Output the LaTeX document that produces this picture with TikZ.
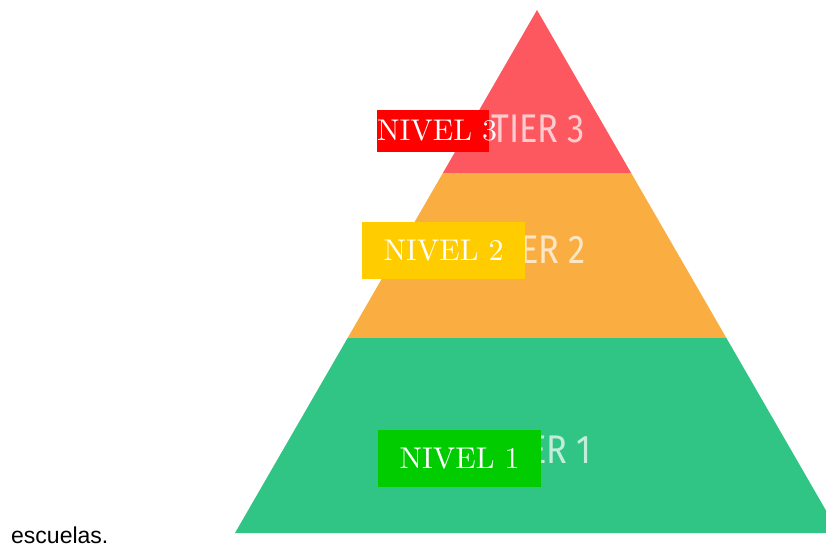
\documentclass[tikz,border=0pt]{standalone}
\usepackage{fontspec}
\newfontfamily\tierfont{Fira Sans}
\newfontfamily\notefont{Liberation Sans}
\newfontfamily\nivelfont{lmroman10-regular.otf}
\usetikzlibrary{positioning,calc}

\definecolor{tierred}{RGB}{253,87,95}
\definecolor{tierorange}{RGB}{250,174,65}
\definecolor{tiergreen}{RGB}{48,197,132}
\definecolor{nivelred}{RGB}{255,0,0}
\definecolor{nivelgold}{RGB}{255,204,0}
\definecolor{nivelgreen}{RGB}{0,204,0}

\begin{document}
\begin{tikzpicture}[x=1pt,y=-1pt]

		\tikzset{tierstyle/.style={text=white, text opacity=0.7, inner sep=0pt, font=\tierfont\fontsize{40}{40}\selectfont}}
		\tikzset{nivelbox/.style={inner sep=0pt, minimum width=163pt, minimum height=57pt}}
		\tikzset{niveltext/.style={text=white, inner sep=0pt, font=\nivelfont\fontsize{30}{30}\selectfont}}
		\tikzset{notestyle/.style={inner sep=0pt, font=\notefont\fontsize{23}{23}\selectfont}}

		\useasboundingbox (0,0) rectangle (826,545);
		\clip (0,0) rectangle (826,545);

		\coordinate (apex) at (537,10);
		\coordinate (baseL) at (235,533);
		\coordinate (baseR) at (839,533);

		\newcommand\drawBand[3] % {from}{to}{colour}
		{
			\fill[#3] ($(apex)!#1!(baseL)$) -- ($(apex)!#1!(baseR)$)
			-- ($(apex)!#2!(baseR)$) -- ($(apex)!#2!(baseL)$) -- cycle;
		}

		\newcommand\tierLabel[3] % {name}{x}{y}
		{
			\node[tierstyle] (tier#1) at (#2,#3) {\scalebox{0.86}[1]{TIER #1}};
		}

		\drawBand{0}{0.3117}{tierred}
		\drawBand{0.3117}{0.6272}{tierorange}
		\drawBand{0.6272}{1}{tiergreen}

		\tierLabel{3}{538}{129}
		\tierLabel{2}{539}{250}
		\tierLabel{1}{546}{450}

		\node[nivelbox, fill=nivelred, minimum width=112pt, minimum height=42pt] (nivel3box) at (433,131) {};
		\node[niveltext, anchor=west] (nivel3) at (nivel3box.west) {NIVEL 3};
		\node[nivelbox, fill=nivelgold] (nivel2box) at (443.5,250.5) {};
		\node[niveltext] (nivel2) at (nivel2box) {NIVEL 2};
		\node[nivelbox, fill=nivelgreen] (nivel1box) at (459.5,458.5) {};
		\node[niveltext] (nivel1) at (nivel1box) {NIVEL 1};

		\node[notestyle, anchor=base west] (note) at (11,543.5) {escuelas.};
	\end{tikzpicture}
\end{document}
